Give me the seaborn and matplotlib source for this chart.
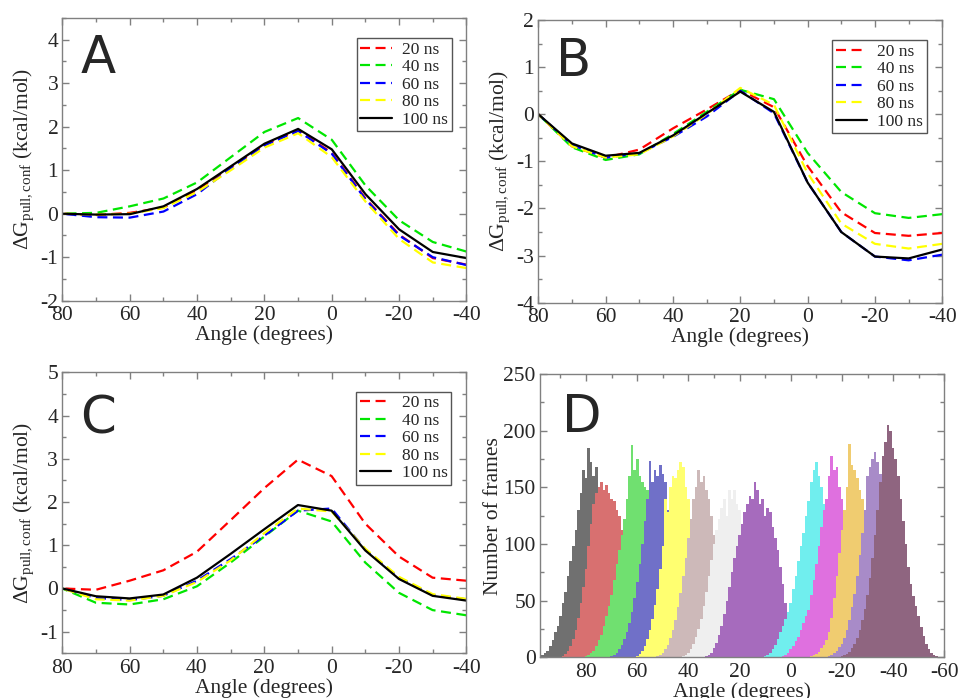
import numpy as np
import pandas as pd
import seaborn as sns
import matplotlib.pyplot as plt
from matplotlib.ticker import MultipleLocator

# Free energy profiles (kcal/mol) at each angle, one list per simulation length
angles = [80, 70, 60, 50, 40, 30, 20, 10, 0, -10, -20, -30, -40]
times = ['20 ns', '40 ns', '60 ns', '80 ns', '100 ns']
line_colors = ['#ff0000', '#00e600', '#0000ff', '#ffff00', '#000000']

a_20 = [0, -0.03, 0.02, 0.14, 0.55, 1.07, 1.58, 1.92, 1.40, 0.35, -0.48, -1.02, -1.17]
a_40 = [0, 0.02, 0.17, 0.35, 0.72, 1.30, 1.88, 2.20, 1.70, 0.65, -0.15, -0.65, -0.87]
a_60 = [0, -0.08, -0.09, 0.05, 0.45, 1.05, 1.57, 1.90, 1.38, 0.33, -0.50, -1.00, -1.18]
a_80 = [0, -0.02, 0.00, 0.13, 0.50, 1.00, 1.52, 1.85, 1.30, 0.28, -0.58, -1.12, -1.25]
a_100 = [0, -0.02, -0.01, 0.17, 0.57, 1.09, 1.61, 1.95, 1.48, 0.45, -0.36, -0.88, -1.02]

b_20 = [0, -0.68, -0.92, -0.75, -0.30, 0.10, 0.52, 0.15, -1.10, -2.08, -2.52, -2.58, -2.52]
b_40 = [0, -0.70, -0.97, -0.85, -0.42, 0.05, 0.52, 0.32, -0.82, -1.65, -2.10, -2.20, -2.12]
b_60 = [0, -0.65, -0.92, -0.83, -0.48, -0.05, 0.50, 0.02, -1.45, -2.50, -3.02, -3.10, -2.98]
b_80 = [0, -0.68, -0.92, -0.85, -0.47, 0.00, 0.56, 0.20, -1.25, -2.32, -2.75, -2.85, -2.75]
b_100 = [0, -0.62, -0.88, -0.82, -0.45, 0.02, 0.48, 0.05, -1.45, -2.50, -3.02, -3.06, -2.87]

c_20 = [0, -0.03, 0.18, 0.42, 0.85, 1.58, 2.32, 2.98, 2.60, 1.50, 0.74, 0.25, 0.18]
c_40 = [0, -0.33, -0.37, -0.25, 0.05, 0.60, 1.20, 1.80, 1.55, 0.60, -0.10, -0.50, -0.62]
c_60 = [0, -0.22, -0.27, -0.17, 0.18, 0.68, 1.22, 1.80, 1.85, 0.90, 0.25, -0.15, -0.25]
c_80 = [0, -0.25, -0.28, -0.17, 0.15, 0.65, 1.28, 1.85, 1.78, 0.92, 0.27, -0.13, -0.24]
c_100 = [0, -0.18, -0.23, -0.14, 0.25, 0.80, 1.37, 1.93, 1.80, 0.88, 0.22, -0.17, -0.28]

# Umbrella window histograms: 1 degree bins, first bin centre given, listed from high to low angle
hist_starts = [97, 89, 80, 70, 60, 52, 42, 33, 10, 3, -8, -15, -20]
hist_colors = ['#707070', '#d87070', '#70e070', '#7070c8', '#ffff70', '#cdb9b9', '#efefef',
               '#a66bbd', '#70eeee', '#df70df', '#f0cc70', '#a88bc8', '#8f6580']
h_black = [2, 4, 6, 10, 15, 22, 28, 36, 48, 58, 72, 85, 98, 112, 130, 145, 165, 158, 185, 172,
           160, 168, 150, 140, 125, 110, 95, 78, 62, 48, 35, 24, 15, 9, 5, 2]
h_red = [1, 3, 6, 10, 16, 24, 35, 48, 62, 78, 98, 118, 135, 145, 150, 155, 148, 152, 145, 140,
         138, 130, 125, 112, 98, 82, 66, 50, 36, 25, 16, 10, 5, 2]
h_green = [1, 2, 4, 6, 10, 15, 20, 28, 36, 45, 55, 68, 82, 95, 108, 122, 140, 160, 187, 165,
           175, 160, 155, 150, 148, 128, 110, 92, 72, 55, 40, 28, 18, 11, 6, 3]
h_blue = [1, 2, 4, 7, 11, 16, 22, 30, 40, 52, 66, 82, 100, 120, 140, 173, 155, 165, 160, 170,
          162, 155, 130, 108, 85, 65, 48, 33, 22, 13, 7, 3, 1]
h_yellow = [1, 3, 6, 10, 16, 24, 34, 46, 60, 78, 98, 140, 128, 150, 160, 158, 165, 172, 168, 150,
            140, 118, 95, 74, 55, 40, 27, 17, 10, 5, 2]
h_brown = [1, 2, 4, 7, 11, 17, 24, 33, 44, 57, 72, 88, 105, 122, 140, 150, 165, 155, 160, 148,
           140, 125, 108, 90, 72, 55, 40, 28, 18, 11, 6, 3, 1]
h_grey = [1, 2, 4, 7, 12, 18, 25, 34, 45, 58, 72, 86, 100, 112, 122, 132, 140, 125, 148, 140,
          148, 135, 130, 118, 104, 88, 72, 56, 42, 30, 20, 12, 7, 3, 1]
h_violet = [1, 2, 4, 8, 13, 20, 28, 38, 50, 62, 75, 88, 98, 108, 118, 128, 135, 142, 140, 155,
            148, 135, 140, 125, 132, 128, 115, 105, 95, 80, 65, 48, 30, 15, 5]
h_cyan = [1, 2, 4, 7, 11, 16, 22, 28, 34, 40, 48, 60, 72, 85, 98, 110, 125, 138, 155, 165,
          172, 160, 150, 135, 115, 95, 75, 56, 40, 27, 17, 10, 5, 2, 1]
h_magenta = [1, 2, 4, 7, 10, 14, 18, 24, 30, 36, 42, 55, 68, 82, 98, 115, 130, 140, 160, 178,
             165, 168, 150, 140, 128, 112, 95, 78, 60, 44, 30, 20, 12, 6, 3, 1]
h_orange = [1, 2, 3, 5, 8, 11, 15, 22, 35, 52, 72, 92, 112, 130, 150, 188, 170, 165, 158, 148,
            140, 120, 98, 76, 56, 38, 24, 14, 7, 3, 1]
h_indigo = [1, 2, 4, 6, 9, 12, 17, 24, 33, 44, 56, 72, 90, 110, 130, 160, 168, 175, 181, 172,
            162, 150, 135, 115, 95, 75, 57, 41, 28, 18, 11, 6, 3, 1]
h_maroon = [1, 2, 3, 5, 8, 12, 17, 24, 33, 43, 55, 70, 88, 108, 130, 155, 178, 190, 205, 200,
            185, 175, 160, 140, 120, 100, 80, 65, 54, 45, 36, 27, 19, 12, 7, 4, 2, 1]
hist_counts = [h_black, h_red, h_green, h_blue, h_yellow, h_brown, h_grey,
               h_violet, h_cyan, h_magenta, h_orange, h_indigo, h_maroon]

sns.set_style('ticks')
plt.rcParams['font.family'] = ['Liberation Serif', 'DejaVu Serif']
plt.rcParams['mathtext.fontset'] = 'custom'
plt.rcParams['mathtext.rm'] = 'Liberation Serif'
plt.rcParams['mathtext.it'] = 'Liberation Serif:italic'
plt.rcParams['axes.unicode_minus'] = False

frame_grey = '#808080'
ylab = u'\u0394G$_{\\mathrm{pull,conf}}$ (kcal/mol)'


def style_axes(ax, xlim, ylim, xmaj, xmin, ymaj, ymin):
    ax.set_xlim(*xlim)
    ax.set_ylim(*ylim)
    ax.xaxis.set_major_locator(MultipleLocator(xmaj))
    ax.xaxis.set_minor_locator(MultipleLocator(xmin))
    ax.yaxis.set_major_locator(MultipleLocator(ymaj))
    ax.yaxis.set_minor_locator(MultipleLocator(ymin))
    ax.tick_params(which='both', direction='in', top=True, right=True,
                   color=frame_grey, labelsize=15.5, width=1)
    ax.tick_params(which='major', length=5)
    ax.tick_params(which='minor', length=3)
    ax.tick_params(axis='x', pad=4)
    ax.tick_params(axis='y', pad=3)
    for s in ax.spines.values():
        s.set_color(frame_grey)
        s.set_linewidth(1)
    ax.set_xlabel('Angle (degrees)', fontsize=15.5, labelpad=0)


def profile_panel(ax, series, letter, ylim, leg_anchor, letter_y):
    for vals, name, col in zip(series, times, line_colors):
        df = pd.DataFrame({'angle': angles, 'dg': vals})
        sns.lineplot(data=df, x='angle', y='dg', color=col, lw=1.6, ax=ax, label=name)
        if name != '100 ns':
            ax.lines[-1].set_dashes((4.5, 2.5))
    style_axes(ax, (80, -40), ylim, 20, 10, 1, 0.5)
    ax.set_ylabel(ylab, fontsize=15.5, labelpad=3)
    leg = ax.legend(loc='upper right', bbox_to_anchor=leg_anchor, borderaxespad=0,
                    fontsize=12.5, handlelength=1.8, handletextpad=0.6, labelspacing=0.08,
                    borderpad=0.2, fancybox=False, framealpha=1)
    leg.get_frame().set_edgecolor('#555555')
    leg.get_frame().set_linewidth(1)
    ax.text(0.045, letter_y, letter, transform=ax.transAxes, fontsize=37,
            family='DejaVu Sans', va='baseline', ha='left')


fig = plt.figure(figsize=(9.58, 6.98), dpi=100)
axA = fig.add_axes([0.0652, 0.5692, 0.4217, 0.405])
axB = fig.add_axes([0.5619, 0.5663, 0.4217, 0.405])
axC = fig.add_axes([0.0650, 0.0640, 0.4217, 0.4026])
axD = fig.add_axes([0.5637, 0.0583, 0.4220, 0.4060])

profile_panel(axA, [a_20, a_40, a_60, a_80, a_100], 'A', (-2, 4.5), (0.963, 0.929), 0.805)
profile_panel(axB, [b_20, b_40, b_60, b_80, b_100], 'B', (-4, 2), (0.961, 0.929), 0.802)
profile_panel(axC, [c_20, c_40, c_60, c_80, c_100], 'C', (-1.5, 5), (0.962, 0.931), 0.782)

for start, counts, col in zip(hist_starts, hist_counts, hist_colors):
    n = len(counts)
    hdf = pd.DataFrame({'angle': start - np.arange(n, dtype=float), 'frames': counts})
    sns.histplot(data=hdf, x='angle', weights='frames', binwidth=1,
                 binrange=(start - n + 0.5, start + 0.5), color=col, alpha=1,
                 edgecolor='none', linewidth=0, ax=axD)
style_axes(axD, (98, -60), (0, 250), 20, 10, 50, 25)
axD.set_ylabel('Number of frames', fontsize=15.5, labelpad=0)
axD.text(0.054, 0.794, 'D', transform=axD.transAxes, fontsize=37,
         family='DejaVu Sans', va='baseline', ha='left')

fig.savefig('out.png', dpi=100)
